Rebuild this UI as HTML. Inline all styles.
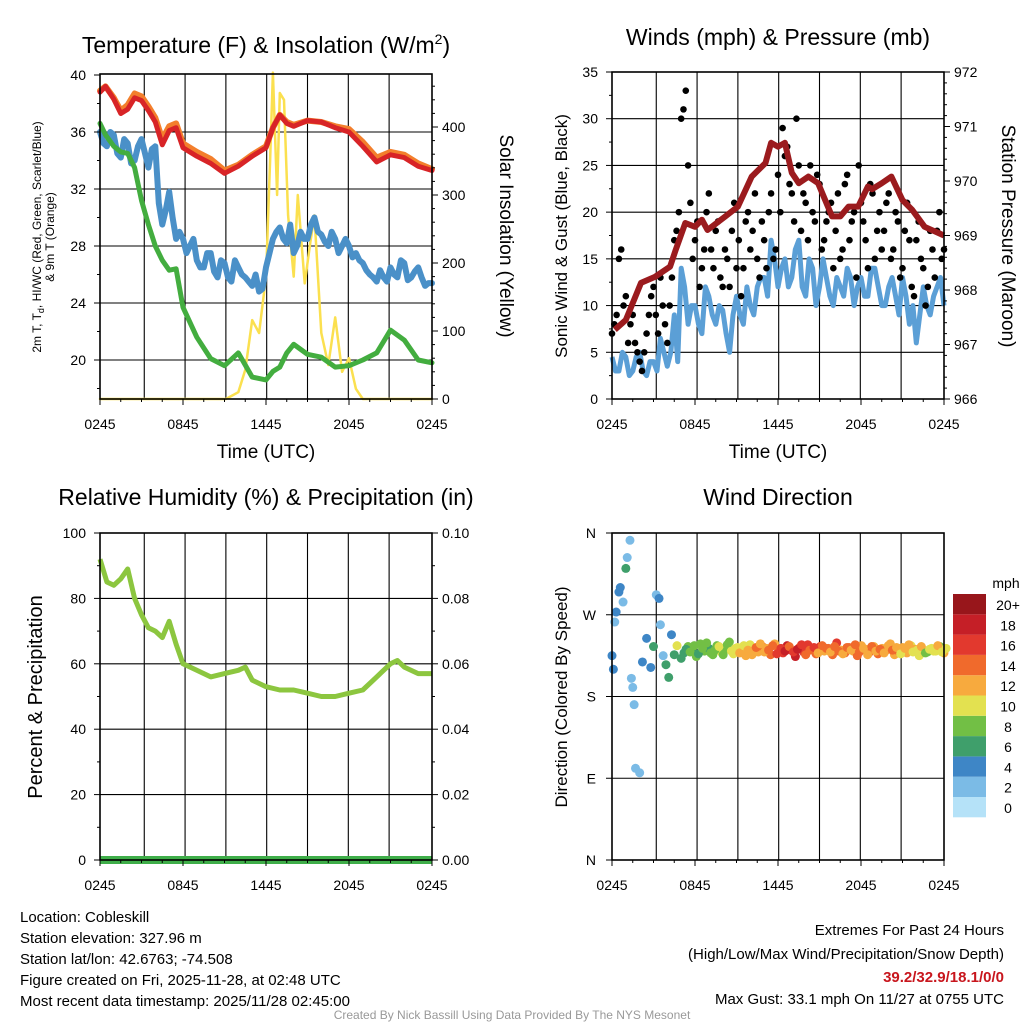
<!DOCTYPE html>
<html><head><meta charset="utf-8"><style>
html,body{margin:0;padding:0;background:#fff}
svg{display:block;font-family:"Liberation Sans",sans-serif}
</style></head><body>
<svg id="s" width="1024" height="1024" viewBox="0 0 1024 1024">
<g id="root"></g>
<text x="266" y="53" font-size="23" text-anchor="middle">Temperature (F) &amp; Insolation (W/m<tspan dy="-9" font-size="14">2</tspan><tspan dy="9">)</tspan></text>
<text x="778" y="45" font-size="23" text-anchor="middle">Winds (mph) &amp; Pressure (mb)</text>
<text x="266" y="505" font-size="23" text-anchor="middle">Relative Humidity (%) &amp; Precipitation (in)</text>
<text x="778" y="505" font-size="23" text-anchor="middle">Wind Direction</text>
<text x="266" y="458" font-size="19" text-anchor="middle">Time (UTC)</text>
<text x="778" y="458" font-size="19" text-anchor="middle">Time (UTC)</text>
<text transform="translate(41,237) rotate(-90)" font-size="12" text-anchor="middle">2m T, T<tspan dy="3" font-size="9">d</tspan><tspan dy="-3">, HI/WC (Red, Green, Scarlet/Blue)</tspan></text>
<text transform="translate(54,237) rotate(-90)" font-size="12" text-anchor="middle">&amp; 9m T (Orange)</text>
<text transform="translate(500,236) rotate(90)" font-size="19" text-anchor="middle">Solar Insolation (Yellow)</text>
<text transform="translate(567,236) rotate(-90)" font-size="17" text-anchor="middle">Sonic Wind &amp; Gust (Blue, Black)</text>
<text transform="translate(1002,236) rotate(90)" font-size="19" text-anchor="middle">Station Pressure (Maroon)</text>
<text transform="translate(42,697) rotate(-90)" font-size="20" text-anchor="middle">Percent &amp; Precipitation</text>
<text transform="translate(567,697) rotate(-90)" font-size="17" text-anchor="middle">Direction (Colored By Speed)</text>
<text x="1006" y="588" font-size="14" text-anchor="middle">mph</text>
<g font-size="15">
<text x="20" y="922">Location: Cobleskill</text>
<text x="20" y="943">Station elevation: 327.96 m</text>
<text x="20" y="964">Station lat/lon: 42.6763; -74.508</text>
<text x="20" y="985">Figure created on Fri, 2025-11-28, at 02:48 UTC</text>
<text x="20" y="1006">Most recent data timestamp: 2025/11/28 02:45:00</text>
</g>
<g font-size="15" text-anchor="end">
<text x="1004" y="935">Extremes For Past 24 Hours</text>
<text x="1004" y="959">(High/Low/Max Wind/Precipitation/Snow Depth)</text>
<text x="1004" y="982" fill="#c8161d" font-weight="bold">39.2/32.9/18.1/0/0</text>
<text x="1004" y="1004">Max Gust: 33.1 mph On 11/27 at 0755 UTC</text>
</g>
<text x="512" y="1019" font-size="12" fill="#999" text-anchor="middle">Created By Nick Bassill Using Data Provided By The NYS Mesonet</text>
</svg>
<script>
// ---- data ----
const xTickLabels = ["0245","0845","1445","2045","0245"];
const tempHours = [0,0.4,1,1.5,2,2.5,3,3.5,4,4.5,5,5.5,6,7,8,9,10,11,12,12.5,13,13.5,14,15,16,17,18,19,20,21,22,23,24];
const tempRed = [38.8,39.2,38.3,37.3,37.6,38.4,38.2,37.5,36.7,35.1,36.1,36.3,34.9,34.3,33.8,33.1,33.6,34.3,34.9,36.3,37.2,36.6,36.4,36.8,36.7,36.3,36.0,35.0,33.9,34.4,34.2,33.6,33.3];
const temp9m = [38.9,39.2,38.4,37.5,37.9,38.7,38.5,37.8,37.0,35.5,36.4,36.6,35.2,34.6,34.1,33.3,33.7,34.4,35.0,36.3,37.2,36.7,36.5,36.8,36.7,36.4,36.2,35.3,34.2,34.6,34.4,33.8,33.4];
const dewGreen = [36.6,35.8,35.0,34.6,34.5,33.5,31.2,29.5,28.0,27.0,26.3,26.4,23.7,21.6,20.1,19.6,20.5,18.8,18.6,19.2,19.5,20.5,21.1,20.4,20.2,19.5,19.6,20.0,20.5,22.1,21.4,20.0,19.8];
const windChill = [36,35,35.8,34.2,35.2,34,35.5,33.5,35,29.5,31.8,28.5,28.5,28,27,26.5,27.5,25.8,26.8,25.5,26.5,25.8,25.2,24.8,26.5,28.5,29.3,28.2,27.5,29,28.5,30,28.8,28,28.5,28,28,27.5,26.8,26,25.5,25.8,26.5,25.8,26.8,25.8,26.5,25.2,25.4];
const windChillMid = [35.2,36,34.5,35.5,33.8,35,34.5,34.8,31,30.5,30,29,27.5,28.5,26.5,27.5,26.2,27,25.8,27,26,25.5,26,25,27.5,29,28.5,29.5,28,28.5,29.5,29,28.3,29,27.5,28.5,27.2,27,26.3,25.8,26.3,25.5,26,27,25.6,26.2,25.8,25.4];
const solarHours = [0,9.1,10,10.5,11,11.5,12,12.3,12.5,12.8,13,13.3,13.6,14,14.3,14.8,15.2,15.5,16,16.5,17,17.5,18,18.5,19,24];
const solarVals = [0,0,10,43,116,97,180,350,480,300,450,440,270,180,300,170,230,270,97,50,120,40,60,15,0,0];
const pressHours = [0.2,1,2.1,3.1,4.2,4.6,5.3,6,6.5,6.9,8.2,9.1,10.1,11.1,11.5,12,12.5,13,13.5,14.2,14.9,15.9,16.5,17.1,17.8,18.5,18.8,19.5,20.2,21,21.7,22.6,24];
const pressVals = [967.27,967.45,968.13,968.24,968.43,968.73,969.23,969.16,969.29,969.1,969.35,969.53,970.08,970.33,970.7,970.63,970.7,970.15,969.96,970.08,969.96,969.35,969.35,969.53,969.53,969.9,969.85,969.96,970.08,969.65,969.47,969.16,969.0];
const windSpeed = [4.5,3,4.5,3,5,2.5,4,6.5,3.5,9,14,8,10,7,11,8,9.5,5,11,8,10,12,13,17,12,15,13,17,11,14,12,13,10,12,14,10,13,11,14,10,12,11,13,8,6,12,9,12,10];
const windSpeedMid = [3,5,2.5,4.5,3,4,3,5,5,4,12,10,8,12,9,10,7,9,9,12,9,13,11,15,14,12,16,12,15,10,15,11,13,11,13,12,11,14,12,10,13,9,11,10,9,10,11,13];
const gustA = [7,9,16,11,8,6,4,5,9,12,7,10,6,13,18,30,33,21,17,12,16,22,14,19,12,15,18,14,11,19,16,22,13,17,20,15,24,29,27,22,30,18,21,25,19,23,17,20,14,22,16,24,19,13,21,17,23,15,20,18,22,16,19,14,21,12,17,15,10,18,13,20,16];
const gustB = [8,15,10,6,9,5,3,7,11,9,13,8,10,17,20,31,25,15,19,14,20,16,18,13,16,12,21,17,14,20,18,15,19,14,22,16,20,26,23,19,25,22,17,20,24,16,19,21,18,15,23,17,20,25,19,14,22,18,16,21,15,20,13,18,17,11,19,14,12,16,18,15];
const rhHours = [0,0.5,1,1.5,2,2.5,3,3.5,4,4.5,5,5.5,6,7,8,9,10,10.5,11,12,13,14,15,16,17,18,19,20,21,21.5,22,23,24];
const rhVals = [92,85,84,86,89,80,75,71,70,68,73,66,60,58,56,57,58,59,55,53,52,52,51,50,50,51,52,56,60,61,59,57,57];
const dirEarlyHours = [0,0.1,0.2,0.3,0.5,0.6,0.8,1.0,1.1,1.3,1.4,1.5,1.6,1.7,2.0,2.2,2.5,2.8,3.0,3.2,3.4,3.5,3.7,3.9,4.1,4.3,4.5,4.7,5.0];
const dirEarly = [225,210,262,273,295,300,284,321,333,352,200,190,171,101,96,218,244,212,235,292,288,259,225,215,201,248,226,236,222];
const speedEarly = [4,4,3,4,4,5,3,7,2,2,3,2,2,2,2,4,4,5,6,3,5,3,3,7,6,4,6,11,7];
const dirLate = [228,235,231,224,238,230,233,226,236,229,232,240,227,234,230,225,237,231,229,235,233,226,238,230,228,236,231,224,234,229,237,232,227,235,230,233,226,239,231,228,234,230,225,236,232,229,235,227,233,231,238,226,230,234,228,236,232,225,231,229,233,230,235,228];
const speedLate = [7,8,7,9,8,8,7,9,8,10,9,8,10,11,11,12,10,13,12,14,13,15,12,14,16,18,17,19,15,17,16,18,14,17,13,15,14,16,13,14,15,12,14,13,13,14,12,15,13,14,12,13,14,12,13,11,12,10,12,9,11,10,8,12];
const dirLate2 = [232,229,236,227,233,239,228,231,235,226,237,230,233,228,236,231,226,234,238,229,231,236,227,233,230,235,229,232,237,226,231,234,228,236,233,229,235,230,227,234,231,237,229,233,226,235,230,232,228,236,231,234,227,233,237,229,231,235,228,232,230,236,229,233];
const speedLate2 = [6,8,9,7,8,9,8,9,10,9,8,11,10,12,11,13,12,14,13,12,15,14,17,16,18,15,17,19,16,15,14,16,13,15,14,13,15,14,12,14,13,14,15,13,12,14,13,15,12,13,14,12,11,13,12,10,11,12,9,10,11,12,10,11];
const cbLabels = ["0","2","4","6","8","10","12","14","16","18","20+"];
const cbColors = ["#b5e2f8","#7bbbe6","#3e86c6","#3f9f6b","#72bf45","#e3e150","#f7aa3e","#f06a2c","#e2392e","#c51f27","#98161b"];

// ---- helpers ----
const NS = "http://www.w3.org/2000/svg";
const root = document.getElementById('root');
function mk(tag, attrs, parent) {
  const e = document.createElementNS(NS, tag);
  for (const k in attrs) e.setAttribute(k, attrs[k]);
  (parent || root).appendChild(e);
  return e;
}
function txt(x, y, s, size, anchor) {
  const t = mk('text', {x: x, y: y, 'font-size': size, 'text-anchor': anchor});
  t.textContent = s;
  return t;
}
function panel(x0, x1, y0, y1) {
  return {x0, x1, y0, y1, xs: h => x0 + h * (x1 - x0) / 24};
}
function interleave(a, b) { const r = []; a.forEach((v, i) => { r.push(v); if (i < b.length) r.push(b[i]); }); return r; }
const P1 = panel(100, 432, 74, 399);
const P2 = panel(612, 944, 72, 399);
const P3 = panel(100, 432, 533, 860);
const P4 = panel(612, 944, 533, 860);
const y1L = v => 360 - (v - 20) * 14.25;
const y1R = v => 399 - v * 0.68;
const y2L = v => 399 - v * 9.343;
const y2R = p => 399 - (p - 966) * 54.5;
const y3L = v => 860 - v * 3.27;
const y4 = d => 860 - d * 0.9083;
const gridHours = [3.2, 6.15, 9.1, 12.05, 15.0, 17.95, 20.9];

function grid(P, hYs, name) {
  const g = mk('g', {stroke: '#000', 'stroke-width': 1.1});
  
  
  gridHours.forEach(h => {
    const l = mk('line', {x1: P.xs(h), x2: P.xs(h), y1: P.y0, y2: P.y1}, g);
    
    
  });
  hYs.forEach(y => {
    const l = mk('line', {x1: P.x0, x2: P.x1, y1: y, y2: y}, g);
    
    
  });
}
function frame(P, name) {
  const r = mk('rect', {x: P.x0, y: P.y0, width: P.x1 - P.x0, height: P.y1 - P.y0, fill: 'none', stroke: '#000', 'stroke-width': 1.6});
  
  
  for (let h = 0; h <= 24; h += 1.5) {
    const len = (h % 6 === 0) ? 6 : 3;
    const t = mk('line', {x1: P.xs(h), x2: P.xs(h), y1: P.y1, y2: P.y1 + len, stroke: '#000', 'stroke-width': 1});
    
    
  }
  xTickLabels.forEach((s, i) => {
    const t = txt(P.xs(i * 6), P.y1 + 30, s, 14, 'middle');
    
    
  });
}
function yTicks(vals, ysf, x, side, fmt, minorVals) {
  vals.forEach(v => {
    const y = ysf(v);
    const tk = mk('line', {x1: x, x2: x + (side === 'left' ? -6 : 6), y1: y, y2: y, stroke: '#000', 'stroke-width': 1});
    
    
    const t = txt(side === 'left' ? x - 14 : x + 10, y + 5, fmt(v), 14, side === 'left' ? 'end' : 'start');
    
    
  });
  (minorVals || []).forEach(v => {
    const y = ysf(v);
    const tk = mk('line', {x1: x, x2: x + (side === 'left' ? -3 : 3), y1: y, y2: y, stroke: '#000', 'stroke-width': 1});
    
    
  });
}
function pathOf(xsArr, ysArr) {
  return xsArr.map((x, i) => (i ? 'L' : 'M') + x.toFixed(1) + ' ' + ysArr[i].toFixed(1)).join(' ');
}
function range(a, b, s) { const r = []; for (let v = a; v <= b + 1e-9; v += s) r.push(+v.toFixed(4)); return r; }
function speedColor(s) { return cbColors[Math.min(10, Math.floor(s / 2))]; }

// ---- Panel 1 ----
grid(P1, [20, 24, 28, 32, 36].map(y1L), 'temperature');
const wcAll = interleave(windChill, windChillMid);
const wcH = wcAll.map((v, i) => i * 0.25);
const p1c = mk('g', {fill: 'none', 'stroke-linejoin': 'round', 'stroke-linecap': 'round'});
const solar = mk('path', {d: pathOf(solarHours.map(P1.xs), solarVals.map(y1R)), stroke: '#fbe04f', 'stroke-width': 2.5}, p1c);


const wc = mk('path', {d: pathOf(wcH.map(P1.xs), wcAll.map(y1L)), stroke: '#4a90c8', 'stroke-width': 6}, p1c);


const dew = mk('path', {d: pathOf(tempHours.map(P1.xs), dewGreen.map(y1L)), stroke: '#43ad3f', 'stroke-width': 5}, p1c);


const t9 = mk('path', {d: pathOf(tempHours.map(P1.xs), temp9m.map(y1L)), stroke: '#f37f2c', 'stroke-width': 6}, p1c);


const t2 = mk('path', {d: pathOf(tempHours.map(P1.xs), tempRed.map(y1L)), stroke: '#d82427', 'stroke-width': 5}, p1c);


frame(P1, 'temperature');
yTicks([20, 24, 28, 32, 36, 40], y1L, P1.x0, 'left', v => String(v), range(18, 40, 2));
yTicks([0, 100, 200, 300, 400], y1R, P1.x1, 'right', v => String(v), range(20, 460, 20));

// ---- Panel 2 ----
grid(P2, [5, 10, 15, 20, 25, 30].map(y2L), 'winds');
const wsAll = interleave(windSpeed, windSpeedMid);
const wsH = wsAll.map((v, i) => i * 0.25);
const ws = mk('path', {d: pathOf(wsH.map(P2.xs), wsAll.map(y2L)), fill: 'none', stroke: '#5b9fd6', 'stroke-width': 5, 'stroke-linejoin': 'round'});


gustA.forEach((v, i) => {
  const c = mk('circle', {cx: P2.xs(i / 3), cy: y2L(v), r: 3.3, fill: '#000'});
  
  
});
gustB.forEach((v, i) => {
  const c = mk('circle', {cx: P2.xs(i / 3 + 1 / 6), cy: y2L(v), r: 3.3, fill: '#000'});
  
  
});
const pr = mk('path', {d: pathOf(pressHours.map(P2.xs), pressVals.map(y2R)), fill: 'none', stroke: '#9b1b1e', 'stroke-width': 6, 'stroke-linejoin': 'round'});


frame(P2, 'winds');
yTicks(range(0, 35, 5), y2L, P2.x0, 'left', v => String(v), range(2.5, 32.5, 5));
yTicks(range(966, 972, 1), y2R, P2.x1, 'right', v => String(v), range(966.2, 971.8, 0.2));

// ---- Panel 3 ----
grid(P3, [20, 40, 60, 80].map(y3L), 'humidity');
const rh = mk('path', {d: pathOf(rhHours.map(P3.xs), rhVals.map(y3L)), fill: 'none', stroke: '#8cc63f', 'stroke-width': 5, 'stroke-linejoin': 'round'});


const pc = mk('line', {x1: P3.x0, x2: P3.x1, y1: y3L(0), y2: y3L(0), stroke: '#3fae49', 'stroke-width': 8});


frame(P3, 'humidity');
yTicks(range(0, 100, 20), y3L, P3.x0, 'left', v => String(v), range(10, 90, 20));
yTicks(range(0, 100, 20), y3L, P3.x1, 'right', v => (v / 1000).toFixed(2), range(10, 90, 20));

// ---- Panel 4 ----
grid(P4, [90, 180, 270].map(y4), 'direction');
dirEarly.forEach((d, i) => {
  const c = mk('circle', {cx: P4.xs(dirEarlyHours[i]), cy: y4(d), r: 4.5, fill: speedColor(speedEarly[i])});
  
  
});
const lateStep = (24 - 5.2) / (dirLate.length - 1);
dirLate.forEach((d, i) => {
  const c = mk('circle', {cx: P4.xs(5.2 + i * lateStep), cy: y4(d), r: 4.5, fill: speedColor(speedLate[i])});
  
  
});
dirLate2.forEach((d, i) => {
  const c = mk('circle', {cx: P4.xs(5.35 + i * lateStep), cy: y4(d), r: 4.5, fill: speedColor(speedLate2[i])});
  
  
});
frame(P4, 'direction');
["N","E","S","W","N"].forEach((s, i) => {
  const y = y4(i * 90);
  const tk = mk('line', {x1: P4.x0, x2: P4.x0 - 6, y1: y, y2: y, stroke: '#000'});
  
  
  const t = txt(P4.x0 - 16, y + 5, s, 14, 'end');
  
  
});
// colorbar
cbColors.forEach((c, i) => {
  const y = 797 - i * 20.3;
  const r = mk('rect', {x: 953, y: y, width: 33, height: 20.3, fill: c});
  
  
  const t = txt(1008, y + 16, cbLabels[i], 14, 'middle');
  
  
});
</script>
</body></html>
